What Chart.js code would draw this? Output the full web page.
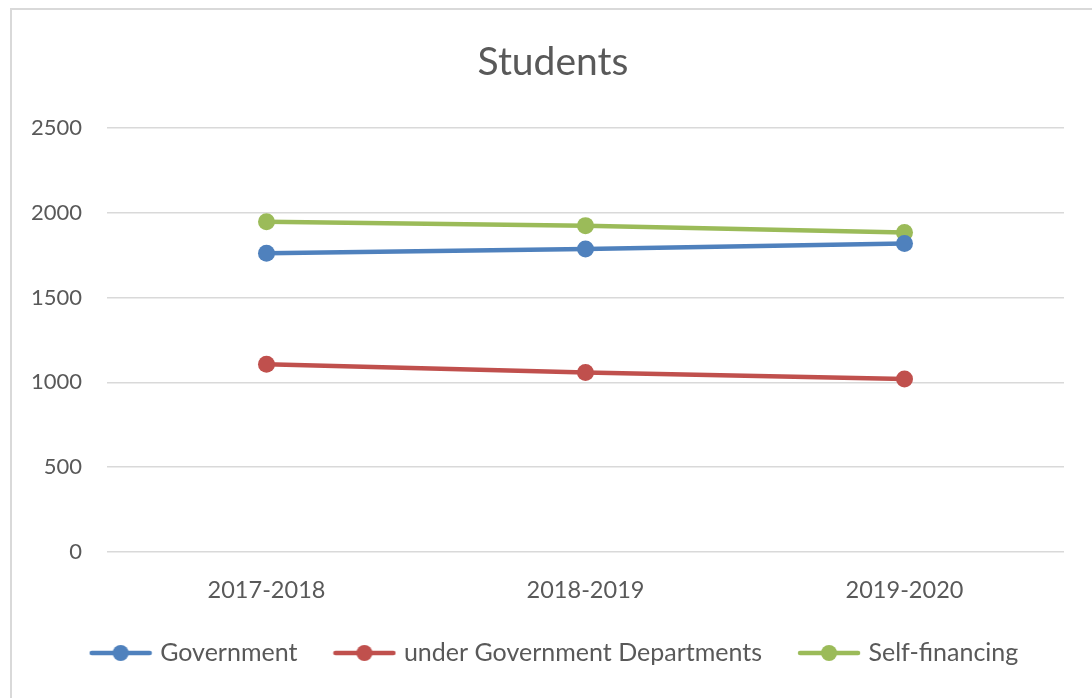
<!DOCTYPE html>
<html>
<head>
<meta charset="utf-8">
<script src="https://cdn.jsdelivr.net/npm/chart.js@4"></script>
<style>
  html, body { margin: 0; padding: 0; background: #fff; }
  #wrap { position: relative; width: 1092px; height: 698px; overflow: hidden; }
  #frame { position: absolute; left: 10px; top: 8px; width: 1100px; height: 720px; border: 2px solid #d9d9d9; box-sizing: border-box; }
  #studentsChart { position: absolute; left: 0; top: 0; }
</style>
</head>
<body>
<div id="wrap">
  <div id="frame"></div>
  <canvas id="studentsChart" width="1092" height="698"></canvas>
</div>
<script>
// Student counts per academic year
const years = ['2017-2018', '2018-2019', '2019-2020'];
const government = [1760, 1785, 1818];
const underGovDepartments = [1106, 1058, 1019];
const selfFinancing = [1946, 1923, 1882];
const seriesNames = ['Government', 'under Government Departments', 'Self-financing'];
const seriesColors = ['#4F81BD', '#C0504D', '#9BBB59'];

const fontFamily = 'Lato, "Open Sans", sans-serif';
const textColor = '#595959';

// legend marker: short line with a dot in the middle
function legendMarker(color) {
    const c = document.createElement('canvas');
    c.width = 64;
    c.height = 20;
    const ctx = c.getContext('2d');
    ctx.strokeStyle = color;
    ctx.lineWidth = 4.5;
    ctx.lineCap = 'round';
    ctx.beginPath();
    ctx.moveTo(3, 10);
    ctx.lineTo(61, 10);
    ctx.stroke();
    ctx.fillStyle = color;
    ctx.beginPath();
    ctx.arc(32, 10, 8, 0, Math.PI * 2);
    ctx.fill();
    return c;
}
const markers = seriesColors.map(legendMarker);

function lineSet(label, values, color) {
    return {
        label: label,
        data: values,
        borderColor: color,
        backgroundColor: color,
        borderWidth: 4.5,
        pointRadius: 8.5,
        pointHoverRadius: 8.5,
        pointBorderWidth: 0,
        tension: 0
    };
}

// nudge the title and legend a bit right of the canvas centre
const boxShift = {
    id: 'boxShift',
    afterLayout(chart) {
        chart.legend.left += 14;
        chart.legend.right += 14;
        chart.titleBlock.left += 11;
        chart.titleBlock.right += 11;
    }
};

new Chart(document.getElementById('studentsChart'), {
    type: 'line',
    data: {
        labels: years,
        datasets: [
            lineSet(seriesNames[0], government, seriesColors[0]),
            lineSet(seriesNames[1], underGovDepartments, seriesColors[1]),
            lineSet(seriesNames[2], selfFinancing, seriesColors[2])
        ]
    },
    plugins: [boxShift],
    options: {
        responsive: false,
        animation: false,
        layout: { padding: { left: 20, right: 28, top: 0, bottom: 22.5 } },
        plugins: {
            title: {
                display: true,
                text: 'Students',
                color: textColor,
                font: { family: fontFamily, size: 39, weight: 'normal' },
                padding: { top: 38.6, bottom: 42.3 }
            },
            legend: {
                position: 'bottom',
                labels: {
                    usePointStyle: true,
                    pointStyleWidth: 54,
                    padding: 40,
                    color: textColor,
                    font: { family: fontFamily, size: 25 },
                    generateLabels: chart => {
                        const items = Chart.defaults.plugins.legend.labels.generateLabels(chart);
                        items.forEach((item, i) => { item.pointStyle = markers[i]; });
                        return items;
                    }
                }
            },
            tooltip: { enabled: false }
        },
        scales: {
            x: {
                offset: true,
                afterFit: scale => { scale.height = 48.5; },
                grid: { display: false, drawTicks: false },
                border: { display: false },
                ticks: {
                    color: textColor,
                    padding: 24,
                    font: { family: fontFamily, size: 23.5 }
                }
            },
            y: {
                min: 0,
                max: 2500,
                afterFit: scale => { scale.width = 87; },
                grid: { color: '#d9d9d9', lineWidth: 1.5, drawTicks: false },
                border: { display: false },
                ticks: {
                    stepSize: 500,
                    color: textColor,
                    padding: 25,
                    font: { family: fontFamily, size: 22 },
                    callback: value => String(value)
                }
            }
        }
    }
});
</script>
</body>
</html>
